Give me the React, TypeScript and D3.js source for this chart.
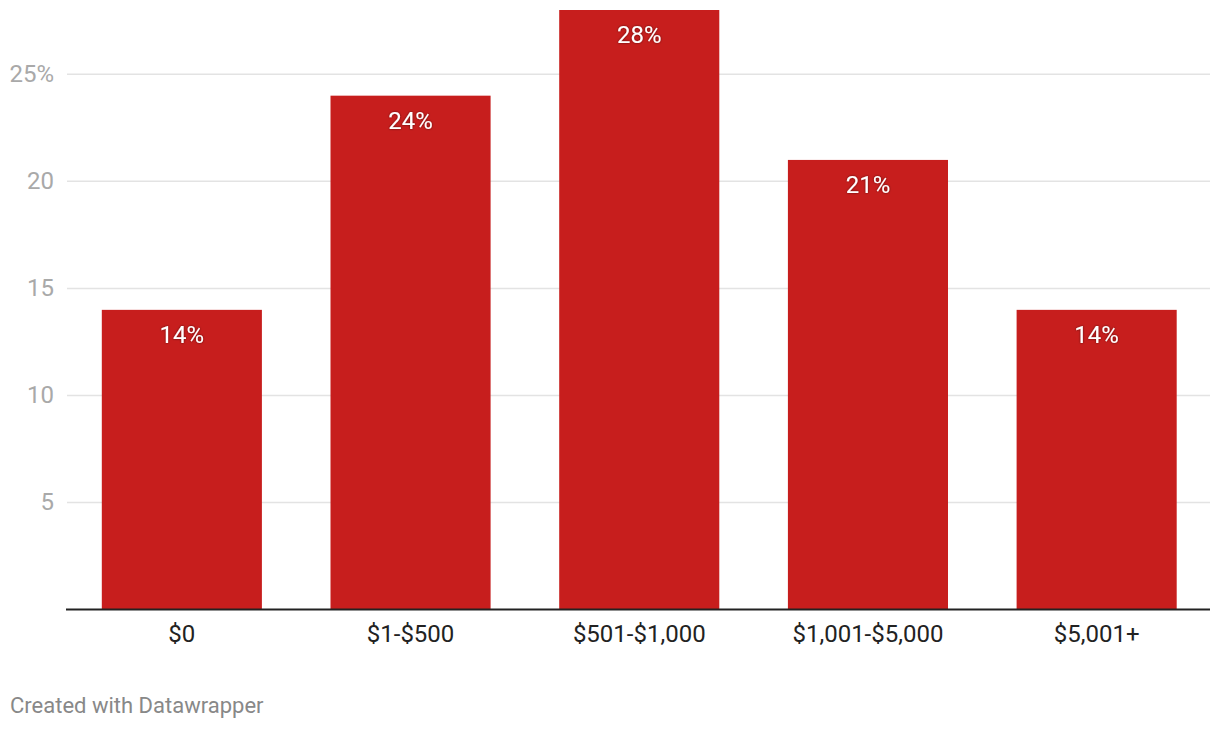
import React from "react";
import * as d3 from "d3";

const categories = ["$0", "$1-$500", "$501-$1,000", "$1,001-$5,000", "$5,001+"];
const values = [14, 24, 28, 21, 14];
const yTicks = [5, 10, 15, 20, 25];
const footer = "Created with Datawrapper";

const W = 1220;
const H = 730;
const FONT = "Roboto, 'Noto Sans', sans-serif";

export default function App() {
  const x = d3
    .scaleBand<string>()
    .domain(categories)
    .range([67.5, 1211])
    .paddingInner(0.3)
    .paddingOuter(0.15);
  const y = d3.scaleLinear().domain([0, 28]).range([609.7, 10]);

  return (
    <svg
      width={W}
      height={H}
      style={{ position: "absolute", left: 0, top: 0, background: "#fff" }}
      fontFamily={FONT}
    >
      <defs>
        <filter id="halo" x="-20%" y="-40%" width="140%" height="180%">
          <feDropShadow dx="0" dy="0" stdDeviation="1.2" floodColor="#000" floodOpacity="0.6" />
        </filter>
      </defs>
      {yTicks.map((t) => (
        <g key={t}>
          <line x1={67} x2={1210} y1={y(t)} y2={y(t)} stroke="#e3e3e3" strokeWidth={1.5} />
          <text
            x={54}
            y={y(t) + 1}
            textAnchor="end"
            dominantBaseline="middle"
            fontSize={24}
            fill="#a9a9a9"
          >
            {t === 25 ? `${t}%` : t}
          </text>
        </g>
      ))}
      {categories.map((c, i) => (
        <g key={c}>
          <rect
            x={x(c)}
            y={y(values[i])}
            width={x.bandwidth()}
            height={y(0) - y(values[i])}
            fill="#c71e1d"
          />
          <text
            x={(x(c) as number) + x.bandwidth() / 2}
            y={y(values[i]) + 26.5}
            textAnchor="middle"
            dominantBaseline="middle"
            fontSize={24}
            fill="#fff"
            filter="url(#halo)"
          >
            {values[i]}%
          </text>
          <text
            x={(x(c) as number) + x.bandwidth() / 2}
            y={635.5}
            textAnchor="middle"
            dominantBaseline="middle"
            fontSize={24}
            fill="#222"
          >
            {c}
          </text>
        </g>
      ))}
      <line x1={66} x2={1210} y1={609.5} y2={609.5} stroke="#222" strokeWidth={2} />
      <text x={10} y={707.5} dominantBaseline="middle" fontSize={22} fill="#888">
        {footer}
      </text>
    </svg>
  );
}
